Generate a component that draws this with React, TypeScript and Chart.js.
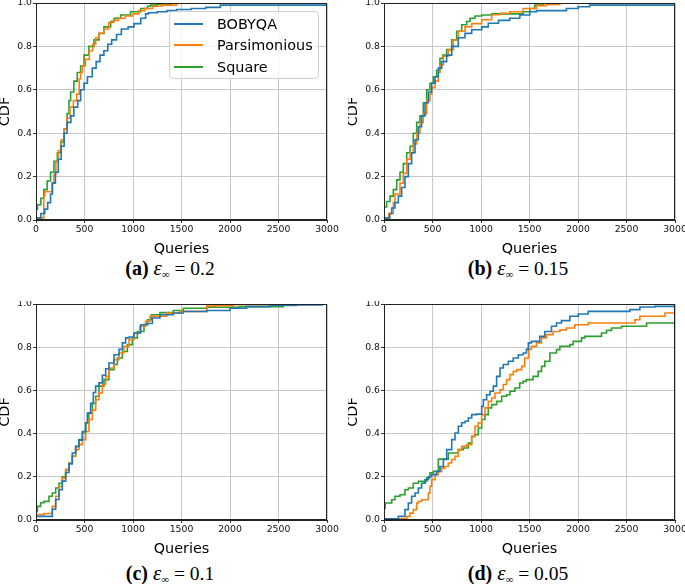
import React, { useEffect, useRef } from 'react';
import { Chart, registerables } from 'chart.js';

Chart.register(...registerables);

type Pt = [number, number];

const METHODS = ['BOBYQA', 'Parsimonious', 'Square'];
const COLORS = ['#1f77b4', '#ff7f0e', '#2ca02c'];
const X_MAX = 3000;
const X_STEP = 500;
const Y_STEP = 0.2;
const PANEL_LABELS = ['(a)', '(b)', '(c)', '(d)'];
const EPSILONS = ['0.2', '0.15', '0.1', '0.05'];

// (a) eps = 0.2  — [queries, CDF]
const A_BOBYQA: Pt[] = [[0,0],[50,0.01],[90,0.03],[120,0.05],[150,0.08],[170,0.12],[200,0.17],[230,0.22],[260,0.28],[290,0.34],[320,0.40],[360,0.45],[390,0.48],[430,0.52],[460,0.55],[495,0.60],[530,0.63],[580,0.66],[620,0.70],[660,0.73],[700,0.76],[740,0.78],[780,0.81],[830,0.83],[880,0.855],[950,0.88],[1010,0.89],[1080,0.905],[1130,0.93],[1160,0.95],[1250,0.955],[1350,0.96],[1450,0.965],[1600,0.97],[1750,0.975],[1900,0.98],[2240,0.99],[3000,0.99]];
const A_PARS: Pt[] = [[0,0.005],[80,0.01],[90,0.11],[165,0.13],[185,0.17],[205,0.21],[230,0.27],[260,0.32],[290,0.37],[320,0.42],[350,0.47],[385,0.52],[420,0.55],[445,0.58],[460,0.65],[480,0.68],[510,0.71],[550,0.74],[585,0.78],[615,0.81],[650,0.84],[700,0.86],[750,0.88],[800,0.91],[850,0.92],[920,0.93],[1000,0.94],[1060,0.95],[1120,0.965],[1200,0.975],[1300,0.985],[1450,0.99],[1580,1.0],[2100,1.0]];
const A_SQUARE: Pt[] = [[0,0.025],[15,0.05],[50,0.07],[80,0.10],[115,0.14],[150,0.18],[185,0.22],[220,0.27],[255,0.31],[290,0.36],[320,0.42],[340,0.49],[357,0.55],[390,0.59],[425,0.64],[460,0.68],[495,0.71],[545,0.76],[598,0.80],[650,0.83],[700,0.86],[770,0.89],[805,0.915],[873,0.93],[975,0.945],[1080,0.96],[1150,0.975],[1180,0.985],[1250,0.99],[1400,0.995],[1650,1.0],[1700,1.0]];

// (b) eps = 0.15
const B_BOBYQA: Pt[] = [[0,0],[60,0.01],[80,0.03],[113,0.055],[148,0.08],[182,0.11],[216,0.15],[251,0.20],[285,0.26],[320,0.31],[354,0.37],[388,0.43],[423,0.48],[457,0.54],[491,0.59],[526,0.63],[560,0.66],[594,0.70],[646,0.73],[698,0.76],[766,0.80],[835,0.84],[904,0.86],[1007,0.877],[1075,0.89],[1180,0.907],[1296,0.92],[1400,0.93],[1503,0.945],[1572,0.96],[1881,0.965],[2000,0.975],[2120,0.983],[2257,0.99],[3000,0.99]];
const B_PARS: Pt[] = [[0,0],[50,0.01],[96,0.03],[113,0.08],[165,0.12],[199,0.17],[234,0.215],[268,0.28],[302,0.31],[337,0.35],[371,0.40],[405,0.45],[440,0.49],[474,0.55],[491,0.58],[526,0.61],[560,0.64],[577,0.68],[612,0.715],[663,0.755],[715,0.785],[766,0.83],[835,0.87],[904,0.89],[1007,0.905],[1110,0.923],[1196,0.946],[1296,0.953],[1434,0.96],[1572,0.975],[1675,0.988],[1812,0.993],[1900,1.0],[2360,1.0]];
const B_SQUARE: Pt[] = [[0,0.02],[27,0.06],[62,0.085],[96,0.11],[131,0.14],[165,0.185],[199,0.22],[234,0.26],[268,0.31],[302,0.34],[337,0.40],[371,0.45],[405,0.48],[440,0.54],[474,0.60],[509,0.63],[543,0.66],[577,0.69],[605,0.745],[646,0.76],[698,0.785],[749,0.83],[801,0.87],[852,0.90],[887,0.915],[938,0.93],[1007,0.94],[1110,0.945],[1434,0.95],[1503,0.96],[1555,0.975],[1640,0.99],[1778,0.998],[2200,1.0]];

// (c) eps = 0.1
const C_BOBYQA: Pt[] = [[0,0],[168,0.017],[203,0.05],[237,0.095],[271,0.14],[306,0.18],[340,0.22],[374,0.26],[409,0.31],[443,0.34],[478,0.37],[512,0.41],[529,0.45],[563,0.495],[591,0.54],[615,0.59],[649,0.62],[684,0.635],[718,0.67],[752,0.70],[804,0.727],[856,0.765],[890,0.79],[924,0.82],[959,0.843],[1010,0.847],[1079,0.866],[1148,0.904],[1200,0.91],[1278,0.935],[1416,0.95],[1519,0.958],[1760,0.965],[2000,0.97],[2170,0.98],[2410,0.988],[2685,0.993],[2925,0.996],[2960,0.996]];
const C_PARS: Pt[] = [[0,0],[82,0.025],[168,0.03],[203,0.063],[237,0.11],[271,0.155],[306,0.195],[340,0.233],[374,0.264],[409,0.295],[443,0.326],[478,0.349],[512,0.372],[546,0.41],[581,0.465],[615,0.51],[649,0.557],[684,0.588],[718,0.627],[752,0.665],[804,0.704],[856,0.742],[907,0.773],[959,0.804],[1010,0.835],[1072,0.866],[1130,0.897],[1175,0.92],[1347,0.943],[1485,0.958],[1760,0.966],[1846,0.99],[2035,0.992],[2410,0.997],[2720,1.0],[2950,1.0]];
const C_SQUARE: Pt[] = [[0,0.02],[14,0.04],[48,0.063],[82,0.08],[134,0.086],[168,0.11],[203,0.125],[237,0.148],[271,0.17],[306,0.20],[340,0.233],[374,0.264],[409,0.295],[443,0.341],[478,0.372],[512,0.403],[546,0.45],[581,0.495],[615,0.54],[649,0.573],[701,0.62],[752,0.65],[804,0.696],[839,0.72],[890,0.75],[942,0.78],[993,0.812],[1045,0.843],[1113,0.873],[1150,0.905],[1190,0.927],[1278,0.95],[1416,0.96],[1519,0.97],[1760,0.98],[2100,0.985],[2550,0.988],[2650,0.996],[2925,1.0],[2960,1.0]];

// (d) eps = 0.05
const D_BOBYQA: Pt[] = [[0,0],[148,0.005],[216,0.017],[251,0.048],[285,0.079],[320,0.11],[354,0.125],[388,0.148],[423,0.17],[457,0.187],[491,0.20],[543,0.21],[577,0.225],[612,0.248],[646,0.28],[698,0.326],[732,0.372],[766,0.403],[801,0.434],[835,0.45],[869,0.457],[904,0.472],[955,0.488],[1007,0.49],[1024,0.526],[1058,0.557],[1093,0.58],[1127,0.596],[1161,0.62],[1196,0.665],[1230,0.704],[1282,0.72],[1333,0.735],[1385,0.75],[1436,0.765],[1468,0.773],[1488,0.79],[1520,0.82],[1606,0.827],[1658,0.85],[1727,0.873],[1778,0.897],[1830,0.912],[1916,0.923],[2002,0.943],[2105,0.954],[2535,0.966],[2638,0.974],[2793,0.986],[3000,0.989]];
const D_PARS: Pt[] = [[0,0],[234,0.005],[268,0.017],[302,0.032],[337,0.048],[354,0.079],[388,0.086],[457,0.094],[474,0.125],[491,0.156],[526,0.187],[560,0.21],[594,0.225],[629,0.24],[663,0.248],[698,0.264],[732,0.28],[766,0.295],[801,0.326],[852,0.341],[904,0.349],[938,0.387],[972,0.434],[1007,0.45],[1041,0.488],[1075,0.519],[1110,0.549],[1144,0.565],[1196,0.588],[1230,0.603],[1264,0.627],[1299,0.65],[1333,0.673],[1368,0.688],[1419,0.696],[1451,0.711],[1490,0.75],[1520,0.79],[1572,0.804],[1624,0.82],[1675,0.843],[1744,0.858],[1813,0.873],[1881,0.88],[1967,0.889],[2105,0.904],[2586,0.912],[2638,0.927],[2896,0.943],[2982,0.958],[3000,0.958]];
const D_SQUARE: Pt[] = [[0,0.02],[12,0.055],[79,0.079],[113,0.094],[165,0.11],[216,0.117],[251,0.14],[302,0.148],[354,0.17],[440,0.179],[474,0.195],[509,0.218],[560,0.225],[663,0.282],[766,0.31],[818,0.326],[869,0.333],[904,0.356],[938,0.387],[972,0.395],[1007,0.426],[1041,0.465],[1075,0.488],[1110,0.519],[1161,0.534],[1213,0.549],[1264,0.573],[1299,0.58],[1350,0.596],[1399,0.611],[1434,0.634],[1468,0.642],[1537,0.65],[1589,0.665],[1624,0.688],[1658,0.711],[1710,0.735],[1778,0.773],[1813,0.789],[1916,0.804],[1950,0.812],[2036,0.827],[2070,0.843],[2242,0.85],[2294,0.866],[2346,0.878],[2449,0.889],[2707,0.897],[2845,0.912],[3000,0.912]];

const PANELS: Pt[][][] = [
  [A_BOBYQA, A_PARS, A_SQUARE],
  [B_BOBYQA, B_PARS, B_SQUARE],
  [C_BOBYQA, C_PARS, C_SQUARE],
  [D_BOBYQA, D_PARS, D_SQUARE],
];

const SANS = '"DejaVu Sans", sans-serif';
const SERIF = '"Liberation Serif", "Times New Roman", serif';

const framePlugin = {
  id: 'frame',
  afterDatasetsDraw(chart: any) {
    const { ctx, chartArea: a } = chart;
    ctx.save();
    ctx.strokeStyle = '#222';
    ctx.lineWidth = 1;
    const l = Math.round(a.left) + 0.5;
    const t = Math.round(a.top) + 0.5;
    const r = Math.round(a.right) - 0.5;
    const b = Math.round(a.bottom) - 0.5;
    ctx.strokeRect(l, t, r - l, b - t);
    ctx.restore();
  },
};

type PanelProps = { idx: number; left: number; top: number; width: number; height: number; padRight: number; };

function Panel({ idx, left, top, width, height, padRight }: PanelProps) {
  const ref = useRef<HTMLCanvasElement>(null);
  useEffect(() => {
    if (!ref.current) return;
    const series = PANELS[idx];
    const chart = new Chart(ref.current, {
      type: 'line',
      data: {
        datasets: series.map((s, i) => ({
          label: METHODS[i],
          data: s.map(([x, y]) => ({ x, y })),
          borderColor: COLORS[i],
          backgroundColor: COLORS[i],
          borderWidth: 1.6,
          pointRadius: 0,
          stepped: 'after' as const,
          fill: false,
        })),
      },
      options: {
        animation: false,
        responsive: false,
        maintainAspectRatio: false,
        layout: { padding: { left: 0, right: padRight, top: 3, bottom: 0 } },
        plugins: { legend: { display: false }, tooltip: { enabled: false } },
        scales: {
          x: {
            type: 'linear',
            min: 0,
            max: X_MAX,
            ticks: {
              stepSize: X_STEP,
              autoSkip: false,
              maxRotation: 0,
              padding: 1,
              color: '#111',
              font: { family: SANS, size: 9.3 },
              callback: (v: any) => String(v),
            },
            grid: { color: '#c8c8c8', lineWidth: 1, tickLength: 3, tickColor: '#333' },
            border: { display: true, color: '#222', width: 1 },
            title: { display: true, text: 'Queries', color: '#000', padding: 0, font: { family: SANS, size: 14.4, lineHeight: 1.0 } },
            afterFit: (s: any) => { s.height = 36; s.paddingLeft = 0; s.paddingRight = 0; },
          },
          y: {
            type: 'linear',
            min: 0,
            max: 1,
            ticks: {
              stepSize: Y_STEP,
              padding: 1,
              color: '#111',
              font: { family: SANS, size: 9.3 },
              callback: (v: any) => Number(v).toFixed(1),
            },
            grid: { color: '#c8c8c8', lineWidth: 1, tickLength: 3, tickColor: '#333' },
            border: { display: true, color: '#222', width: 1 },
            title: { display: true, text: 'CDF', color: '#000', padding: 0, font: { family: SANS, size: 14.4, lineHeight: 0.75 } },
            afterFit: (s: any) => { s.width = 36; s.paddingTop = 0; s.paddingBottom = 0; },
          },
        },
      },
      plugins: [framePlugin],
    } as any);
    return () => chart.destroy();
  }, [idx]);
  return (
    <canvas
      ref={ref}
      width={width}
      height={height}
      style={{ position: 'absolute', left, top, width, height }}
    />
  );
}

function Caption({ idx, left, top, width }: { idx: number; left: number; top: number; width: number }) {
  return (
    <div
      style={{
        position: 'absolute', left, top, width, textAlign: 'center',
        fontFamily: SERIF, fontSize: 19.5, lineHeight: '22px', color: '#000', whiteSpace: 'nowrap',
      }}
    >
      <b style={{ fontSize: 20 }}>{PANEL_LABELS[idx]}</b>{' '}
      <i style={{ fontSize: 21 }}>ε</i><span style={{ fontSize: 11, position: 'relative', top: 3 }}>∞</span>
      {' = '}{EPSILONS[idx]}
    </div>
  );
}

function Legend() {
  const rows = [12, 33, 55];
  return (
    <div
      style={{
        position: 'absolute', left: 169, top: 11, width: 150, height: 68,
        boxSizing: 'border-box', border: '1px solid #d0d0d0', borderRadius: 4,
        background: 'rgba(255,255,255,0.8)',
      }}
    >
      {METHODS.map((m, i) => (
        <React.Fragment key={m}>
          <div style={{ position: 'absolute', left: 4, top: rows[i] - 1, width: 29, height: 2, background: COLORS[i] }} />
          <div style={{ position: 'absolute', left: 47, top: rows[i] - 9, height: 18, lineHeight: '18px', fontFamily: SANS, fontSize: 14.4, color: '#000', whiteSpace: 'nowrap' }}>{m}</div>
        </React.Fragment>
      ))}
    </div>
  );
}

export default function App() {
  return (
    <div style={{ position: 'fixed', left: 0, top: 0, width: 685, height: 584, background: '#fff', overflow: 'hidden' }}>
      <Panel idx={0} left={0} top={0} width={340} height={256} padRight={13} />
      <Panel idx={1} left={348} top={0} width={337} height={256} padRight={10} />
      <Panel idx={2} left={0} top={301} width={340} height={255} padRight={13} />
      <Panel idx={3} left={348} top={301} width={337} height={255} padRight={10} />
      <Legend />
      <Caption idx={0} left={0} top={257} width={340} />
      <Caption idx={1} left={348} top={257} width={340} />
      <Caption idx={2} left={0} top={562} width={340} />
      <Caption idx={3} left={348} top={562} width={340} />
    </div>
  );
}
